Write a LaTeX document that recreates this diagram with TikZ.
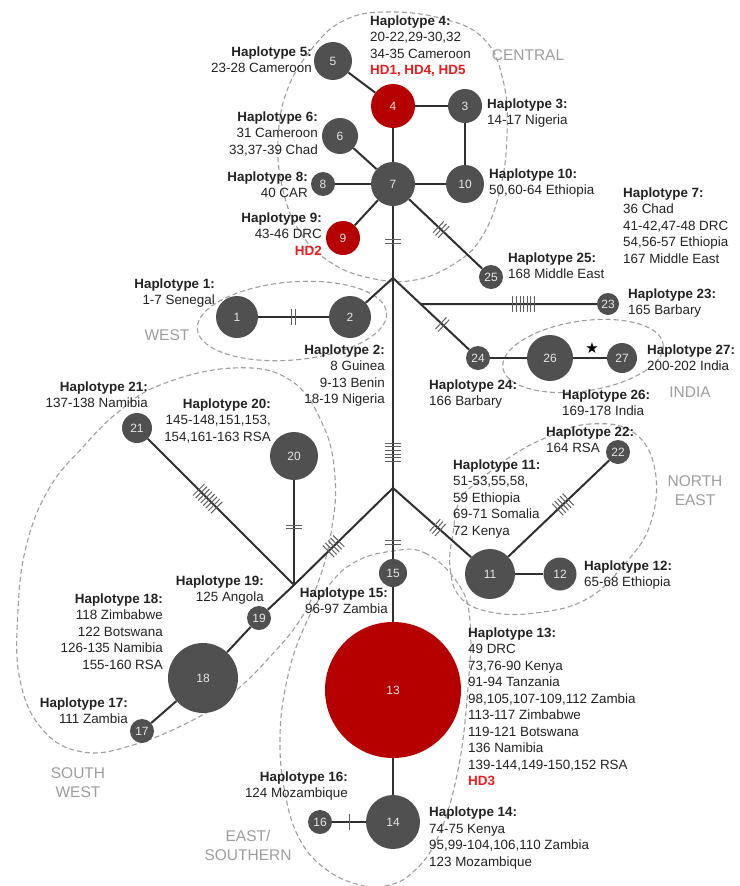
\documentclass[tikz,border=0pt]{standalone}
\usepackage{fontspec}
\setmainfont{Liberation Sans}
\newfontfamily\djv{DejaVu Sans}
\usetikzlibrary{calc}

\definecolor{ngray}{RGB}{80,80,80}
\definecolor{nred}{RGB}{182,0,0}
\definecolor{hdred}{RGB}{238,28,28}
\definecolor{rgray}{RGB}{158,158,158}
\definecolor{edgec}{RGB}{48,48,48}
\definecolor{tickc}{RGB}{95,95,95}
\definecolor{txt}{RGB}{35,35,35}

\tikzset{
 hap/.style={circle, fill=ngray, inner sep=0pt, text=white!90!black, font=\fontsize{12}{14}\selectfont},
 hapred/.style={hap, fill=nred},
 edge/.style={draw=edgec, line width=2pt},
 tickline/.style={draw=tickc, line width=1pt},
 region/.style={draw=rgray, line width=1.1pt, dash pattern=on 5pt off 3pt},
 lab/.style={inner sep=0pt, text=txt, font=\fontsize{13.4}{16.5}\selectfont},
 labl/.style={lab, anchor=north west, align=left},
 labr/.style={lab, anchor=north east, align=right},
 reg/.style={inner sep=0pt, text=rgray, font=\fontsize{15.5}{19}\selectfont, align=center},
}

\newcommand\hd[1]{\textcolor{hdred}{\textbf{#1}}}
\newcommand\mticks[4]{%
  \coordinate (tc) at ($(#1)!#3!(#2)$);
  \foreach \k in {1,...,#4}{%
    \pgfmathsetmacro\off{(\k-(#4+1)/2)*3.6}%
    \coordinate (tk) at ($(tc)!\off pt!(#2)$);
    \draw[tickline] ($(tk)!8pt!90:(#2)$) -- ($(tk)!8pt!-90:(#2)$);
  }}

\begin{document}
\begin{tikzpicture}[x=1pt,y=-1pt]
\fill[white] (0,0) rectangle (739,886);
\useasboundingbox (0,0) rectangle (739,886);

% regions
\draw[region] plot[smooth cycle, tension=0.7] coordinates {(385,12) (440,18) (483,38) (503,80) (507,135) (500,190) (483,235) (457,262) (415,280) (370,278) (330,262) (300,232) (283,190) (278,140) (288,88) (315,45) (345,20)};
\draw[region, rotate around={5:(292,321)}] (292,321) ellipse [x radius=95, y radius=39];
\draw[region, rotate around={8.5:(583,356)}] (583,356) ellipse [x radius=81, y radius=35];
\draw[region] plot[smooth cycle, tension=0.7] coordinates {(480,480) (513,455) (550,436) (590,424) (633,432) (655,470) (650,525) (622,567) (585,600) (535,613) (490,612) (460,597) (450,567) (453,533) (460,500)};
\draw[region] plot[smooth cycle, tension=0.7] coordinates {(393,551) (425,553) (457,582) (470,620) (468,687) (458,770) (438,837) (412,873) (385,886) (360,885) (327,870) (300,840) (285,793) (280,737) (287,680) (303,630) (327,588) (355,562)};
\draw[region] plot[smooth cycle, tension=0.7] coordinates {(160,385) (233,368) (290,380) (323,425) (335,477) (332,527) (320,577) (300,620) (267,660) (233,693) (193,720) (133,745) (83,752) (43,730) (20,680) (18,610) (27,543) (50,487) (83,447) (117,413)};

% haplotype nodes
\node[hap, minimum size=42pt] (n1) at (237,317) {1};
\node[hap, minimum size=42pt] (n2) at (350,317) {2};
\node[hap, minimum size=34pt] (n3) at (465,106) {3};
\node[hapred, minimum size=44pt] (n4) at (393,106) {4};
\node[hap, minimum size=38pt] (n5) at (333,61) {5};
\node[hap, minimum size=36pt] (n6) at (340,136) {6};
\node[hap, minimum size=44pt] (n7) at (393,184) {7};
\node[hap, minimum size=24pt] (n8) at (323,184) {8};
\node[hapred, minimum size=34pt] (n9) at (343,238) {9};
\node[hap, minimum size=38pt] (n10) at (465,184) {10};
\node[hap, minimum size=50pt] (n11) at (490,574) {11};
\node[hap, minimum size=33pt] (n12) at (560,574) {12};
\node[hapred, minimum size=136pt] (n13) at (393,690) {13};
\node[hap, minimum size=54pt] (n14) at (393,822) {14};
\node[hap, minimum size=28pt] (n15) at (393,573) {15};
\node[hap, minimum size=24pt] (n16) at (320,822) {16};
\node[hap, minimum size=24pt] (n17) at (142,731) {17};
\node[hap, minimum size=70pt] (n18) at (203,678) {18};
\node[hap, minimum size=24pt] (n19) at (259,618) {19};
\node[hap, minimum size=48pt] (n20) at (294,456) {20};
\node[hap, minimum size=30pt] (n21) at (137,428) {21};
\node[hap, minimum size=24pt] (n22) at (618,452) {22};
\node[hap, minimum size=22pt] (n23) at (608,304) {23};
\node[hap, minimum size=24pt] (n24) at (478,358) {24};
\node[hap, minimum size=24pt] (n25) at (491,277) {25};
\node[hap, minimum size=46pt] (n26) at (550,358) {26};
\node[hap, minimum size=30pt] (n27) at (622,358) {27};

% junctions
\coordinate (J1) at (393,278);
\coordinate (J2) at ($(J1)!0.325!(n24)$);
\coordinate (J3) at (393,488);
\coordinate (J4) at (294,585);

% edges
\draw[edge] (n5) -- (n4);
\draw[edge] (n4) -- (n3);
\draw[edge] (n3) -- (n10);
\draw[edge] (n4) -- (n7);
\draw[edge] (n7) -- (n10);
\draw[edge] (n7) -- (n6);
\draw[edge] (n7) -- (n8);
\draw[edge] (n7) -- (n9);
\draw[edge] (n7) -- (n25);
\draw[edge] (n7) -- (J1) -- (J3) -- (n15);
\draw[edge] (n15) -- (n13);
\draw[edge] (n13) -- (n14);
\draw[edge] (n16) -- (n14);
\draw[edge] (J1) -- (n2);
\draw[edge] (n1) -- (n2);
\draw[edge] (J1) -- (n24);
\draw[edge] (J2) -- (n23);
\draw[edge] (n24) -- (n26);
\draw[edge] (n26) -- (n27);
\draw[edge] (J3) -- (n11);
\draw[edge] (n11) -- (n12);
\draw[edge] (n11) -- (n22);
\draw[edge] (J3) -- (J4) -- (n19);
\draw[edge] (n19) -- (n18);
\draw[edge] (n18) -- (n17);
\draw[edge] (J4) -- (n21);
\draw[edge] (J4) -- (n20);

% mutation ticks
\mticks{n7}{J1}{0.61}{2}
\mticks{n7}{n25}{0.49}{3}
\mticks{n1}{n2}{0.5}{2}
\mticks{J2}{n23}{0.55}{7}
\mticks{J1}{n24}{0.58}{2}
\mticks{J1}{J3}{0.83}{6}
\mticks{J3}{n11}{0.46}{3}
\mticks{J3}{n15}{0.64}{2}
\mticks{J3}{J4}{0.6}{5}
\mticks{J4}{n21}{0.55}{8}
\mticks{J4}{n20}{0.45}{2}
\mticks{n11}{n22}{0.57}{5}
\mticks{n16}{n14}{0.4}{1}

\node[inner sep=0pt, font=\djv\fontsize{15}{15}\selectfont] (star) at (592,348) {★};

% labels
\node[labl] (t4) at (370,15.5) {\textbf{Haplotype 4:}\\20-22,29-30,32\\34-35 Cameroon\\\hd{HD1, HD4, HD5}};
\node[labr] (t5) at (312,46.5) {\textbf{Haplotype 5:}\\23-28 Cameroon};
\node[labl] (t3) at (487,98.5) {\textbf{Haplotype 3:}\\14-17 Nigeria};
\node[labr] (t6) at (318,111.5) {\textbf{Haplotype 6:}\\31 Cameroon\\33,37-39 Chad};
\node[labr] (t8) at (308,171.5) {\textbf{Haplotype 8:}\\40 CAR};
\node[labr] (t9) at (322,212.5) {\textbf{Haplotype 9:}\\43-46 DRC\\\hd{HD2}};
\node[labl] (t10) at (489,168.5) {\textbf{Haplotype 10:}\\50,60-64 Ethiopia};
\node[labl] (t7) at (623,187.5) {\textbf{Haplotype 7:}\\36 Chad\\41-42,47-48 DRC\\54,56-57 Ethiopia\\167 Middle East};
\node[labl] (t25) at (508,252.5) {\textbf{Haplotype 25:}\\168 Middle East};
\node[labr] (t1) at (215,278.5) {\textbf{Haplotype 1:}\\1-7 Senegal};
\node[labl] (t23) at (628,288.5) {\textbf{Haplotype 23:}\\165 Barbary};
\node[labr] (t2) at (385,344.5) {\textbf{Haplotype 2:}\\8 Guinea\\9-13 Benin\\18-19 Nigeria};
\node[labl] (t27) at (647,344.5) {\textbf{Haplotype 27:}\\200-202 India};
\node[labl] (t24) at (429,379.5) {\textbf{Haplotype 24:}\\166 Barbary};
\node[labl] (t26) at (562,389.5) {\textbf{Haplotype 26:}\\169-178 India};
\node[labr] (t21) at (148,381.5) {\textbf{Haplotype 21:}\\137-138 Namibia};
\node[labr] (t20) at (271,398.5) {\textbf{Haplotype 20:}\\145-148,151,153,\\154,161-163 RSA};
\node[labl] (t22) at (546,426.5) {\textbf{Haplotype 22:}\\164 RSA};
\node[labl] (t11) at (453,459.5) {\textbf{Haplotype 11:}\\51-53,55,58,\\59 Ethiopia\\69-71 Somalia\\72 Kenya};
\node[labl] (t12) at (584,560.5) {\textbf{Haplotype 12:}\\65-68 Ethiopia};
\node[labr] (t19) at (264,575.5) {\textbf{Haplotype 19:}\\125 Angola};
\node[labr] (t15) at (388,587.5) {\textbf{Haplotype 15:}\\96-97 Zambia};
\node[labr] (t18) at (163,593.5) {\textbf{Haplotype 18:}\\118 Zimbabwe\\122 Botswana\\126-135 Namibia\\155-160 RSA};
\node[labl] (t13) at (468,627.5) {\textbf{Haplotype 13:}\\49 DRC\\73,76-90 Kenya\\91-94 Tanzania\\98,105,107-109,112 Zambia\\113-117 Zimbabwe\\119-121 Botswana\\136 Namibia\\139-144,149-150,152 RSA\\\hd{HD3}};
\node[labr] (t17) at (128,697.5) {\textbf{Haplotype 17:}\\111 Zambia};
\node[labr] (t16) at (348,771.5) {\textbf{Haplotype 16:}\\124 Mozambique};
\node[labl] (t14) at (429,807) {\textbf{Haplotype 14:}\\74-75 Kenya\\95,99-104,106,110 Zambia\\123 Mozambique};

% region names
\node[reg] (rc) at (528,55) {CENTRAL};
\node[reg] (rw) at (167,335) {WEST};
\node[reg] (ri) at (690,392) {INDIA};
\node[reg] (rne) at (695,490.5) {NORTH\\EAST};
\node[reg] (rsw) at (78,782.5) {SOUTH\\WEST};
\node[reg] (res) at (248,845.5) {EAST/\\SOUTHERN};
\end{tikzpicture}
\end{document}
